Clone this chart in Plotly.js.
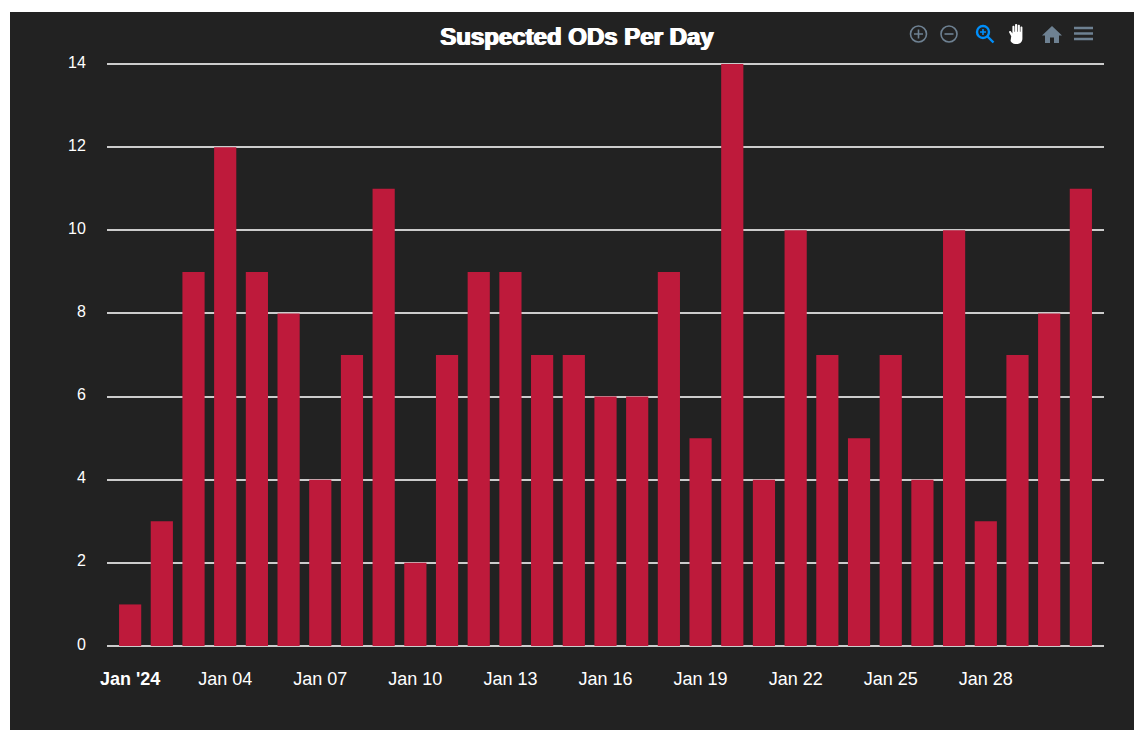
<!DOCTYPE html>
<html><head><meta charset="utf-8">
<script src="https://cdn.plot.ly/plotly-3.0.1.min.js"></script>
<style>
html,body{margin:0;padding:0;background:#fff;width:1134px;height:730px;overflow:hidden}
#chart{position:absolute;left:10px;top:12px;width:1124px;height:718px}
#tools{position:absolute;left:905px;top:20px}
</style></head><body>
<div id="chart"></div>
<svg id="tools" width="195" height="28" viewBox="0 0 195 28">
  <g fill="none" stroke="#6E8192" stroke-width="1.6">
    <circle cx="13.5" cy="14" r="8"/><path d="M9 14h9M13.5 9.5v9"/>
    <circle cx="44" cy="14" r="8"/><path d="M39.5 14h9"/>
  </g>
  <g fill="none" stroke="#008FFB" stroke-width="2.4">
    <circle cx="78" cy="12" r="6"/><path d="M82.5 16.5l6 6"/><path d="M75 12h6M78 9v6" stroke-width="1.6"/>
  </g>
  <g transform="translate(112 14) scale(1.15,1.1) translate(-111 -13)">
  <path d="M106 15l-1.8-3.4c-.5-1 .9-1.8 1.6-.8l1.2 1.7V6.5c0-1.2 1.8-1.2 1.8 0V11h.5V4.8c0-1.2 1.9-1.2 1.9 0V11h.5V5.4c0-1.2 1.8-1.2 1.8 0V11h.5V7c0-1.2 1.7-1.2 1.7 0v10c0 3-2 5-4.8 5h-1.5c-2 0-3-1-4-2.6z" fill="#fff"/>
  </g>
  <path d="M147 6l-10 9.5h3v7.5h5v-5.5h4v5.5h5v-7.5h3z" fill="#6E8192"/>
  <path d="M169 8h19M169 13.500h19M169 19h19" stroke="#6E8192" stroke-width="2.6" fill="none"/>
</svg>
<script>
const days = ["Jan 01","Jan 02","Jan 03","Jan 04","Jan 05","Jan 06","Jan 07","Jan 08","Jan 09","Jan 10","Jan 11","Jan 12","Jan 13","Jan 14","Jan 15","Jan 16","Jan 17","Jan 18","Jan 19","Jan 20","Jan 21","Jan 22","Jan 23","Jan 24","Jan 25","Jan 26","Jan 27","Jan 28","Jan 29","Jan 30","Jan 31"];
const suspectedODs = [1,3,9,12,9,8,4,7,11,2,7,9,9,7,7,6,6,9,5,14,4,10,7,5,7,4,10,3,7,8,11];
const xTickVals = ["Jan 01","Jan 04","Jan 07","Jan 10","Jan 13","Jan 16","Jan 19","Jan 22","Jan 25","Jan 28"];
const xTickText = ["<b>Jan '24</b>","Jan 04","Jan 07","Jan 10","Jan 13","Jan 16","Jan 19","Jan 22","Jan 25","Jan 28"];
const yTicks = [0,2,4,6,8,10,12,14];

Plotly.newPlot('chart',[{
  type:'bar',x:days,y:suspectedODs,name:'Suspected ODs',
  width:0.7,marker:{color:'#BE1A3B',line:{width:0}},
  hovertemplate:'%{x}: %{y}<extra></extra>'
}],{
  width:1124,height:718,
  paper_bgcolor:'#222222',plot_bgcolor:'#222222',
  margin:{l:97,r:30,t:50,b:84},
  bargap:0.3,showlegend:false,
  font:{family:'Liberation Sans, Arial, sans-serif',size:16,color:'#ffffff'},
  title:{text:'<b>Suspected ODs Per Day</b>',x:0.5044,xanchor:'center',y:0.9655,yanchor:'middle',
    font:{family:'Liberation Sans, Arial, sans-serif',size:24,color:'#ffffff',shadow:'0.8px 0 0 #fff, -0.8px 0 0 #fff'}},
  xaxis:{type:'category',range:[-0.73,30.73],tickmode:'array',tickvals:xTickVals,ticktext:xTickText,
    showgrid:false,zeroline:false,showline:false,ticks:'outside',ticklen:16,tickcolor:'rgba(0,0,0,0)',
    tickfont:{size:18,color:'#ffffff'},automargin:false,fixedrange:true,tickangle:0},
  yaxis:{range:[0,14.05],tickmode:'array',tickvals:yTicks,showgrid:true,gridcolor:'#cccccc',gridwidth:1.6,
    zeroline:true,zerolinecolor:'#cccccc',zerolinewidth:1.6,showline:false,
    ticks:'outside',ticklen:17,tickcolor:'rgba(0,0,0,0)',tickfont:{size:16,color:'#ffffff'},ticklabelshift:-2,automargin:false,fixedrange:true}
},{displayModeBar:false,responsive:false});
</script>
</body></html>
